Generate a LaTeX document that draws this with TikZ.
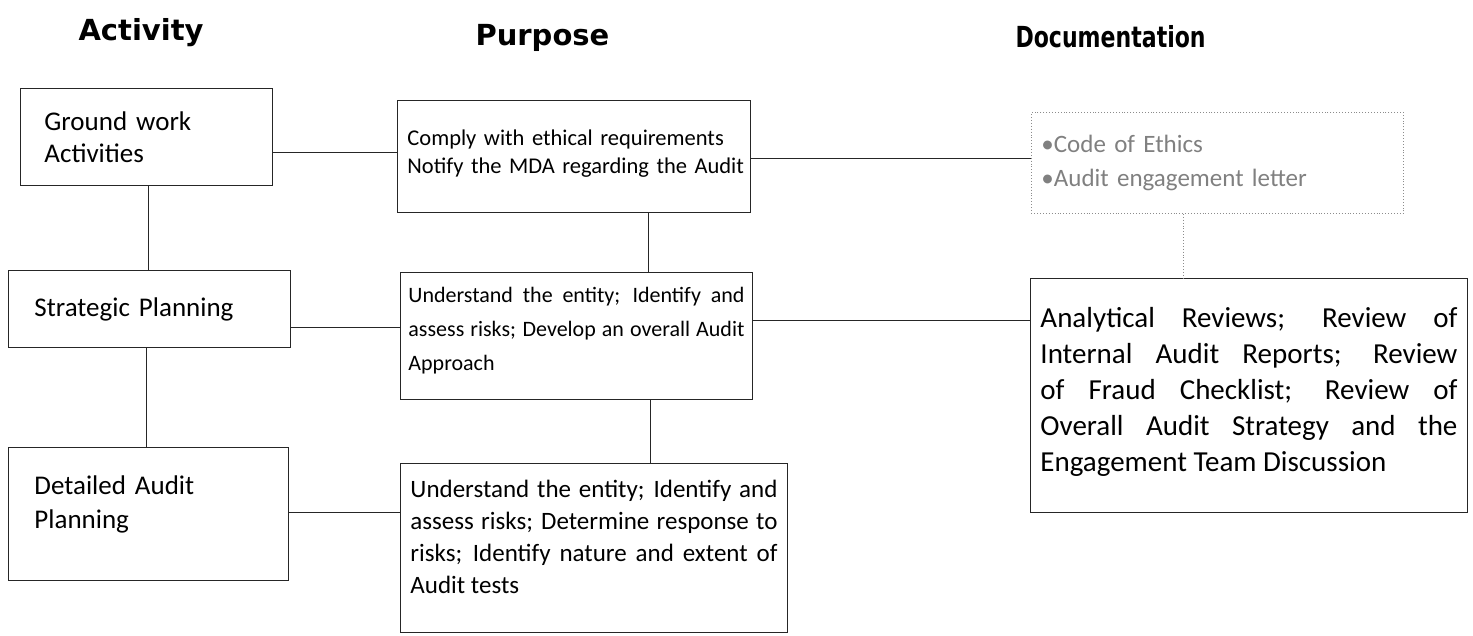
\documentclass[tikz,border=0pt]{standalone}
\usepackage{fontspec}
\setmainfont{Carlito}
\newfontfamily\headfont{DejaVu Sans}
% a line set flush with both margins
\newcommand\jl[1]{{\parfillskip=0pt #1\par}}
% blank space below the last line of a box
\newcommand\tailgap[1]{\par\vspace{#1}\hrule height 0pt depth 0pt width 0pt}
\begin{document}
\begin{tikzpicture}[x=1pt,y=-1pt,
  actbox/.style={draw=black!85, line width=0.9pt, anchor=north west, inner xsep=26pt, inner ysep=0pt, align=left, font=\fontsize{27}{34}\selectfont},
  purbox/.style={draw=black!85, line width=0.9pt, anchor=north west, inner xsep=10pt, inner ysep=0pt, align=justify},
  docbox/.style={draw=black!85, line width=0.9pt, anchor=north west, inner xsep=10pt, inner ysep=0pt, align=justify, font=\fontsize{29}{36}\selectfont},
  faint/.style={draw=black!45, line width=0.9pt, dotted},
  link/.style={draw=black!85, line width=0.9pt},
  head/.style={font=\headfont\bfseries\fontsize{29}{29}\selectfont, anchor=base west}
]
\useasboundingbox (0,0) rectangle (1473,635);

% column headings
\node[head] (hact) at (75,40) {Activity};
\node[head] (hpur) at (472,45) {Purpose};
\node[head] (hdoc) at (1012,47) {\scalebox{0.76}[1]{Documentation}};

% activity column
\node[actbox, inner xsep=24pt, minimum width=252pt, minimum height=97pt, text width=204pt, font=\fontsize{27}{32}\selectfont] (gw) at (20,88) {Ground work\\Activities};
\node[actbox, minimum width=282pt, minimum height=77pt, text width=230pt] (sp) at (8,270) {Strategic Planning};
\node[actbox, minimum width=280pt, minimum height=133pt, text width=228pt] (dap) at (8,447) {Detailed Audit\\Planning\tailgap{20pt}};

% purpose column
\node[purbox, align=left, inner xsep=10pt, minimum width=353pt, minimum height=112pt, text width=333pt, font=\fontsize{22.5}{28}\selectfont] (pc) at (397,100) {\mbox{Comply with ethical requirements}\\\mbox{Notify the MDA regarding the Audit}\tailgap{6pt}};
\node[purbox, inner xsep=8pt, minimum width=352pt, minimum height=127pt, text width=336pt, font=\fontsize{22}{34}\selectfont] (ps) at (400,272) {\jl{Understand the entity; Identify and}\jl{assess risks; Develop an overall Audit}Approach\tailgap{10pt}};
\node[purbox, minimum width=387pt, minimum height=169pt, text width=367pt, font=\fontsize{25}{32}\selectfont] (pd) at (400,463) {\jl{Understand the entity; Identify and}\jl{assess risks; Determine response to}\jl{risks; Identify nature and extent of}Audit tests\tailgap{22pt}};

% documentation column
\node[faint, anchor=north west, minimum width=372pt, minimum height=101pt, text width=352pt, inner xsep=10pt, inner ysep=0pt, align=left, text=black!50, font=\fontsize{25}{34}\selectfont] (dc) at (1031,112) {\textbullet Code of Ethics\\\textbullet Audit engagement letter};
\node[docbox, minimum width=437pt, minimum height=234pt, text width=417pt] (dr) at (1030,278) {\jl{Analytical Reviews; Review of}\jl{Internal Audit Reports; Review}\jl{of Fraud Checklist; Review of}\jl{Overall Audit Strategy and the}Engagement Team Discussion\tailgap{8pt}};

% connectors between the columns
\draw[link] (gw.east |- 0,152) -- (pc.west |- 0,152);
\draw[link] (sp.east |- 0,327) -- (ps.west |- 0,327);
\draw[link] (dap.east |- 0,512) -- (pd.west |- 0,512);
\draw[link] (pc.east |- 0,158) -- (dc.west |- 0,158);
\draw[link] (ps.east |- 0,320) -- (dr.west |- 0,320);

% connectors down each column
\draw[link] (gw.south -| 148,0) -- (sp.north -| 148,0);
\draw[link] (sp.south -| 146,0) -- (dap.north -| 146,0);
\draw[link] (pc.south -| 648,0) -- (ps.north -| 648,0);
\draw[link] (ps.south -| 650,0) -- (pd.north -| 650,0);
\draw[faint] (dc.south -| 1183,0) -- (dr.north -| 1183,0);
\end{tikzpicture}
\end{document}
